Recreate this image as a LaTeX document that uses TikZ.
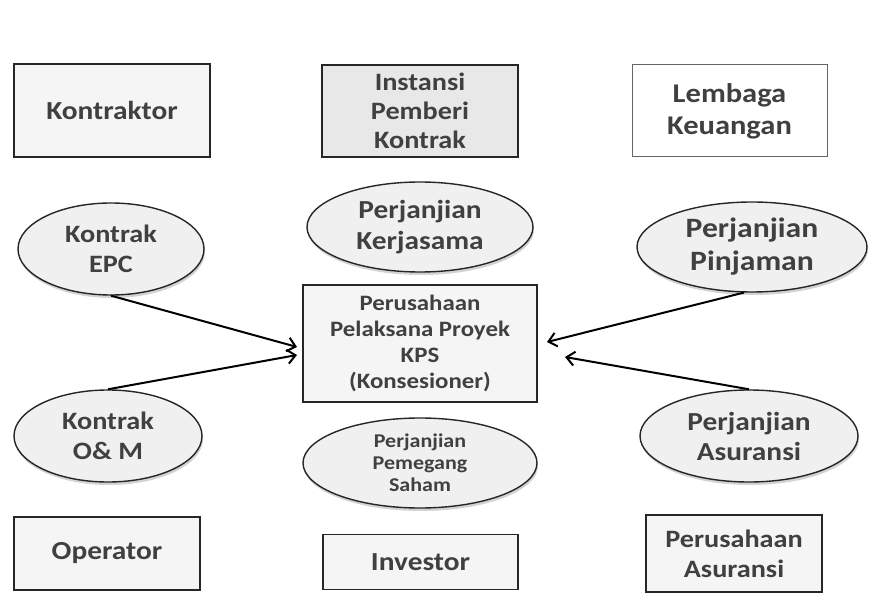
\documentclass[tikz,border=0pt]{standalone}
\usepackage{fontspec}
\setmainfont{Carlito}[FakeStretch=1.13]
\usetikzlibrary{arrows.meta, positioning, shapes.geometric, shadows}

\begin{document}
\begin{tikzpicture}[x=1pt, y=-1pt,
  party/.style={draw=black!85, line width=1.6pt, fill=gray!8, inner sep=0pt, align=center, text=black!75, font=\bfseries\fontsize{26}{31}\selectfont},
  pact/.style={ellipse, draw=black!85, line width=1.4pt, fill=gray!12, inner sep=0pt, align=center, text=black!75, drop shadow={opacity=0.35, shadow xshift=1pt, shadow yshift=-3pt}, font=\bfseries\fontsize{25}{30}\selectfont},
  link/.style={-{Straight Barb[length=8pt, width=14pt]}, line width=2pt, black}]
\useasboundingbox (0,0) rectangle (886,593);

% parties
\node[party, minimum width=196pt, minimum height=93pt] (kontraktor) at (112,110.5) {Kontraktor};
\node[party, minimum width=196pt, minimum height=92pt, fill=gray!18, font=\bfseries\fontsize{25}{29}\selectfont] (instansi) at (420,111) {Instansi\\Pemberi\\Kontrak};
\node[party, minimum width=195pt, minimum height=92pt, fill=white, draw=black!60, line width=1pt, font=\bfseries\fontsize{27}{32}\selectfont] (lembaga) at (729.5,111) {Lembaga\\Keuangan};
\node[party, minimum width=234pt, minimum height=117pt, font=\bfseries\fontsize{22}{26}\selectfont] (pelaksana) at (420,343.5) {Perusahaan\\Pelaksana Proyek\\KPS\\(Konsesioner)};
\node[party, minimum width=186pt, minimum height=73pt] (operator) at (107,553.5) {Operator};
\node[party, minimum width=195pt, minimum height=55pt] (investor) at (420.5,562) {Investor};
\node[party, minimum width=176pt, minimum height=77pt, font=\bfseries\fontsize{25}{30}\selectfont] (asuransi) at (734,553.5) {Perusahaan\\Asuransi};

% agreements
\node[pact, minimum width=186pt, minimum height=92pt] (epc) at (111,249) {Kontrak\\EPC};
\node[pact, minimum width=226pt, minimum height=90pt, font=\bfseries\fontsize{26}{31}\selectfont] (kerjasama) at (420,227) {Perjanjian\\Kerjasama};
\node[pact, minimum width=230pt, minimum height=90pt, font=\bfseries\fontsize{28}{33}\selectfont] (pinjaman) at (752,247) {Perjanjian\\Pinjaman};
\node[pact, minimum width=188pt, minimum height=92pt] (om) at (108,436) {Kontrak\\O\& M};
\node[pact, minimum width=234pt, minimum height=90pt, font=\bfseries\fontsize{19.5}{22}\selectfont] (saham) at (420,463) {Perjanjian\\Pemegang\\Saham};
\node[pact, minimum width=218pt, minimum height=92pt, font=\bfseries\fontsize{26}{30}\selectfont] (pasuransi) at (749,436) {Perjanjian\\Asuransi};

% arrow tips beside the project company
\coordinate (tipEpc) at (297,347);
\coordinate (tipOm) at (297,355);
\coordinate (tipPinjaman) at (547,342);
\coordinate (tipAsuransi) at (565,357);

\draw[link] (epc.south) -- (tipEpc);
\draw[link] (om.north) -- (tipOm);
\draw[link] (pinjaman.260) -- (tipPinjaman);
\draw[link] (pasuransi.north) -- (tipAsuransi);
\end{tikzpicture}
\end{document}
